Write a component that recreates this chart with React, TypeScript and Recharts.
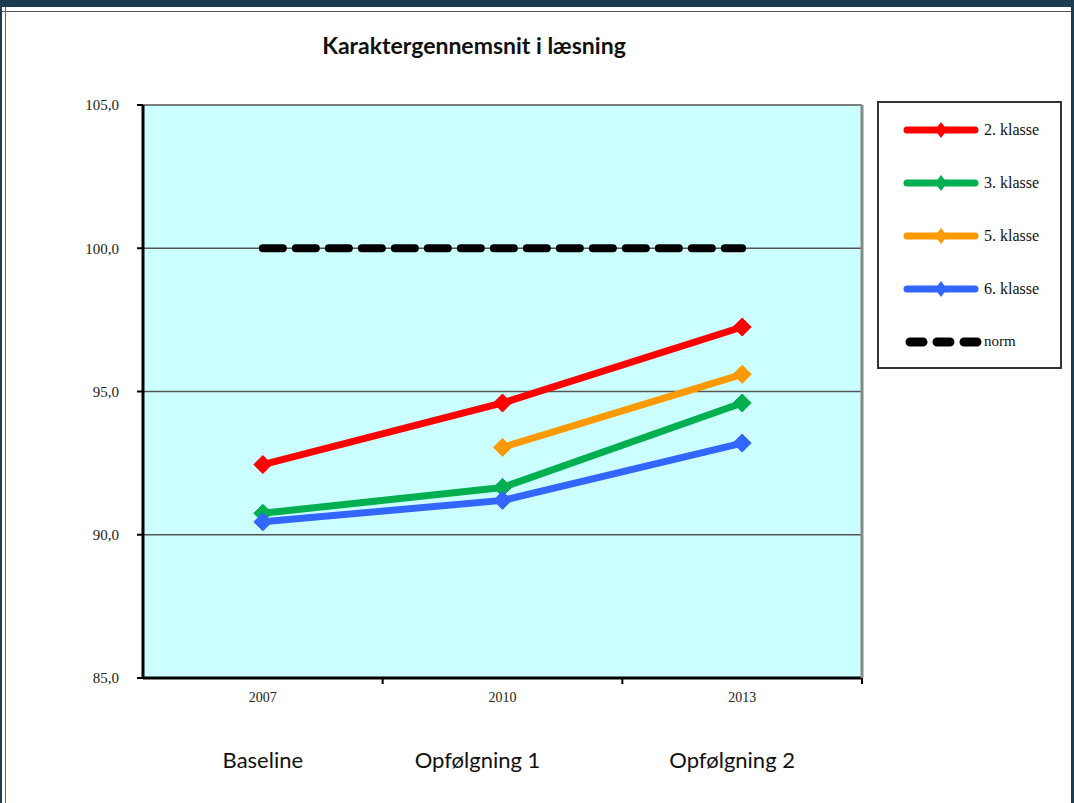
import React from 'react';
import { LineChart, Line, XAxis, YAxis, CartesianGrid } from 'recharts';

const years = ['2007', '2010', '2013'];
const phases = ['Baseline', 'Opfølgning 1', 'Opfølgning 2'];
const klasse2 = [92.45, 94.6, 97.25];
const klasse3 = [90.75, 91.65, 94.6];
const klasse5 = [null, 93.05, 95.6];
const klasse6 = [90.45, 91.2, 93.2];
const norm = [100, 100, 100];
const yTicks = [85, 90, 95, 100, 105];

// the phase captions sit a little left of the year ticks in the original
const phaseShift = [0, -25, -10];

const series = [
  { key: 'k2', name: '2. klasse', color: '#ff0000', values: klasse2 },
  { key: 'k3', name: '3. klasse', color: '#00b050', values: klasse3 },
  { key: 'k5', name: '5. klasse', color: '#ff9900', values: klasse5 },
  { key: 'k6', name: '6. klasse', color: '#3366ff', values: klasse6 },
];

const data = years.map((year, i) => {
  const row: any = { year, phase: phases[i], norm: norm[i] };
  series.forEach(s => { row[s.key] = s.values[i]; });
  return row;
});

const Diamond = (props: any) => {
  const { cx, cy, stroke, payload, dataKey } = props;
  if (cx == null || cy == null || payload[dataKey] == null) return null;
  const r = 9;
  return (
    <polygon
      points={`${cx},${cy - r} ${cx + r},${cy} ${cx},${cy + r} ${cx - r},${cy}`}
      fill={stroke}
      stroke={stroke}
      strokeLinejoin="round"
      strokeWidth={1}
    />
  );
};

const YearTick = (props: any) => {
  const { x, y, payload } = props;
  const row = data[payload.index];
  const off = payload.offset || 0;
  return (
    <g>
      <line x1={x + off} y1={y - 8} x2={x + off} y2={y - 2} stroke="#000" strokeWidth={2} />
      <text x={x} y={y + 16} textAnchor="middle" fontFamily="Liberation Serif" fontSize={14} fill="#222">
        {payload.value}
      </text>
      <text
        x={x + (phaseShift[payload.index] || 0)}
        y={y + 82}
        textAnchor="middle"
        fontFamily="Lato"
        fontSize={22}
        fill="#111"
      >
        {row ? row.phase : ''}
      </text>
    </g>
  );
};

const LegendBox = () => (
  <div
    style={{
      position: 'absolute',
      left: 875,
      top: 94,
      width: 185,
      height: 268,
      border: '2px solid #333',
      background: '#fff',
      boxSizing: 'border-box',
    }}
  >
    {series.map(s => (
      <div key={s.key} style={{ display: 'flex', alignItems: 'center', height: 53 }}>
        <svg width={80} height={20} style={{ marginLeft: 24 }}>
          <line x1={4} y1={10} x2={72} y2={10} stroke={s.color} strokeWidth={7} strokeLinecap="round" />
          <polygon points="38,2 44,10 38,18 32,10" fill={s.color} />
        </svg>
        <span style={{ fontFamily: 'Liberation Serif', fontSize: 16, color: '#111', marginLeft: 1 }}>{s.name}</span>
      </div>
    ))}
    <div style={{ display: 'flex', alignItems: 'center', height: 53 }}>
      <svg width={80} height={20} style={{ marginLeft: 24 }}>
        <line x1={7} y1={10} x2={75} y2={10} stroke="#000" strokeWidth={9} strokeLinecap="round" strokeDasharray="13 14" />
      </svg>
      <span style={{ fontFamily: 'Liberation Serif', fontSize: 15, color: '#111', marginLeft: 1 }}>norm</span>
    </div>
  </div>
);

export default function App() {
  return (
    <div
      style={{
        position: 'fixed',
        left: 0,
        top: 0,
        width: 1074,
        height: 803,
        background: '#fff',
        boxSizing: 'border-box',
        borderTop: '7px solid #1d3c51',
        borderLeft: '2px solid #1d3c51',
        borderRight: '3px solid #1d3c51',
        overflow: 'hidden',
      }}
    >
      <div style={{ position: 'absolute', left: 0, top: 4, width: '100%', height: 1, background: '#555' }} />
      <div style={{ position: 'absolute', left: 3, top: 0, width: 1, height: '100%', background: '#666' }} />
      <div
        style={{
          position: 'absolute',
          left: 0,
          top: 24,
          width: 944,
          textAlign: 'center',
          fontFamily: 'Lato',
          fontWeight: 700,
          fontSize: 23,
          color: '#111',
        }}
      >
        Karaktergennemsnit i læsning
      </div>
      <div style={{ position: 'absolute', left: -2, top: -7 }}>
        <LineChart width={1074} height={803} data={data} margin={{ top: 105, right: 211, bottom: 95, left: 83 }}>
          <CartesianGrid fill="#ccffff" stroke="#555" strokeWidth={1.5} vertical={false} horizontalValues={yTicks} />
          <XAxis
            dataKey="year"
            scale="band"
            axisLine={{ stroke: '#000', strokeWidth: 3 }}
            tickLine={false}
            tick={<YearTick />}
            height={30}
            interval={0}
          />
          <YAxis
            domain={[85, 105]}
            ticks={yTicks}
            width={60}
            axisLine={{ stroke: '#000', strokeWidth: 3 }}
            tickLine={{ stroke: '#000', strokeWidth: 2 }}
            tickSize={6}
            tick={{ fontFamily: 'Liberation Serif', fontSize: 15, fill: '#222', dx: -16 }}
            tickFormatter={(v: number) => v.toFixed(1).replace('.', ',')}
          />
          <YAxis
            yAxisId="right"
            orientation="right"
            domain={[85, 105]}
            width={1}
            tick={false}
            tickLine={false}
            axisLine={{ stroke: '#888', strokeWidth: 3 }}
          />
          <Line
            dataKey="norm"
            name="norm"
            stroke="#000"
            strokeWidth={8}
            strokeDasharray="20 13"
            strokeLinecap="round"
            dot={false}
            isAnimationActive={false}
          />
          {series.map(s => (
            <Line
              key={s.key}
              dataKey={s.key}
              name={s.name}
              stroke={s.color}
              strokeWidth={7}
              dot={<Diamond />}
              activeDot={false}
              connectNulls={false}
              isAnimationActive={false}
            />
          ))}
        </LineChart>
      </div>
      <LegendBox />
    </div>
  );
}
